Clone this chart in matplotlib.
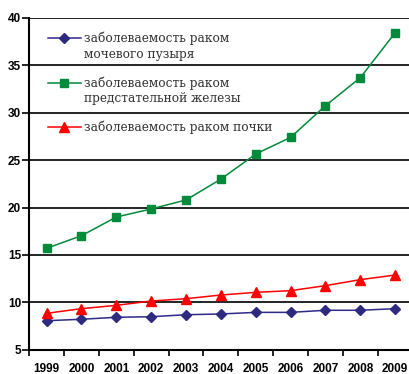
import matplotlib
matplotlib.use("Agg")
import matplotlib.pyplot as plt
import numpy as np

years = ["1999", "2000", "2001", "2002", "2003", "2004", "2005", "2006", "2007", "2008", "2009"]
bladder = [8.06, 8.21, 8.42, 8.48, 8.69, 8.77, 8.94, 8.94, 9.16, 9.16, 9.33]
prostate = [15.7, 17.03, 19.0, 19.85, 20.8, 23.0, 25.65, 27.4, 30.75, 33.7, 38.45]
kidney = [8.84, 9.33, 9.68, 10.14, 10.38, 10.77, 11.05, 11.23, 11.76, 12.39, 12.88]
label_first = ["заболеваемость раком", "заболеваемость раком", "заболеваемость раком почки"]
label_second = ["мочевого пузыря", "предстательной железы", ""]
yticks = [5, 10, 15, 20, 25, 30, 35, 40]

W, H = 409, 374
fig = plt.figure(figsize=(W / 100, H / 100), dpi=100)
left, right, top, bottom = 29.2, 412.6, 18.0, 349.7
ax = fig.add_axes([left / W, 1 - bottom / H, (right - left) / W, (bottom - top) / H])

x = np.arange(len(years))
h1, = ax.plot(x, bladder, color="#2e2a8a", lw=1.1, marker="D", ms=5.5, mfc="#2e2a80", mec="#2e2a80")
h2, = ax.plot(x, prostate, color="#008a3a", lw=1.1, marker="s", ms=6.2, mfc="#008a3a", mec="#008a3a")
h3, = ax.plot(x, kidney, color="#ff0000", lw=1.1, marker="^", ms=6.8, mfc="#ff0000", mec="#ff0000")

ax.set_xlim(-0.5, len(years) - 0.5)
ax.set_ylim(5, 40)
ax.set_yticks(yticks)
ax.set_yticklabels([str(v) for v in yticks], fontsize=8.5, fontweight="bold", family="Liberation Sans")
ax.yaxis.grid(True, color="black", lw=1.2)
ax.set_axisbelow(True)

ax.set_xticks(np.arange(len(years) + 1) - 0.5)
ax.set_xticklabels([])
ax.set_xticks(x, minor=True)
ax.set_xticklabels(years, minor=True, fontsize=8.5, fontweight="bold", family="Liberation Sans")
ax.tick_params(axis="x", which="major", length=4, width=1.2, direction="out")
ax.tick_params(axis="x", which="minor", length=0, pad=9.8)
ax.tick_params(axis="y", length=5.4, width=1.2, pad=0.5)

for s in ["top", "right"]:
    ax.spines[s].set_visible(False)
ax.spines["left"].set_linewidth(1.5)
ax.spines["bottom"].set_linewidth(1.5)

fs = 8.7
leg = ax.legend([h1, h2, h3], label_first, loc="upper left", bbox_to_anchor=(0.049, 0.958),
                frameon=False, prop={"family": "DejaVu Serif", "size": fs}, handlelength=2.7,
                handletextpad=0.25, labelspacing=2.55, borderaxespad=0, borderpad=0)
for t in leg.get_texts():
    t.set_color("#333333")

fig.canvas.draw()
for t, extra in zip(leg.get_texts(), label_second):
    if extra:
        ax.annotate(extra, xy=(0, 0), xycoords=t, xytext=(0, -11.0), textcoords="offset points",
                    ha="left", va="bottom", family="DejaVu Serif", fontsize=fs, color="#333333")

fig.savefig("out.png", dpi=100)
